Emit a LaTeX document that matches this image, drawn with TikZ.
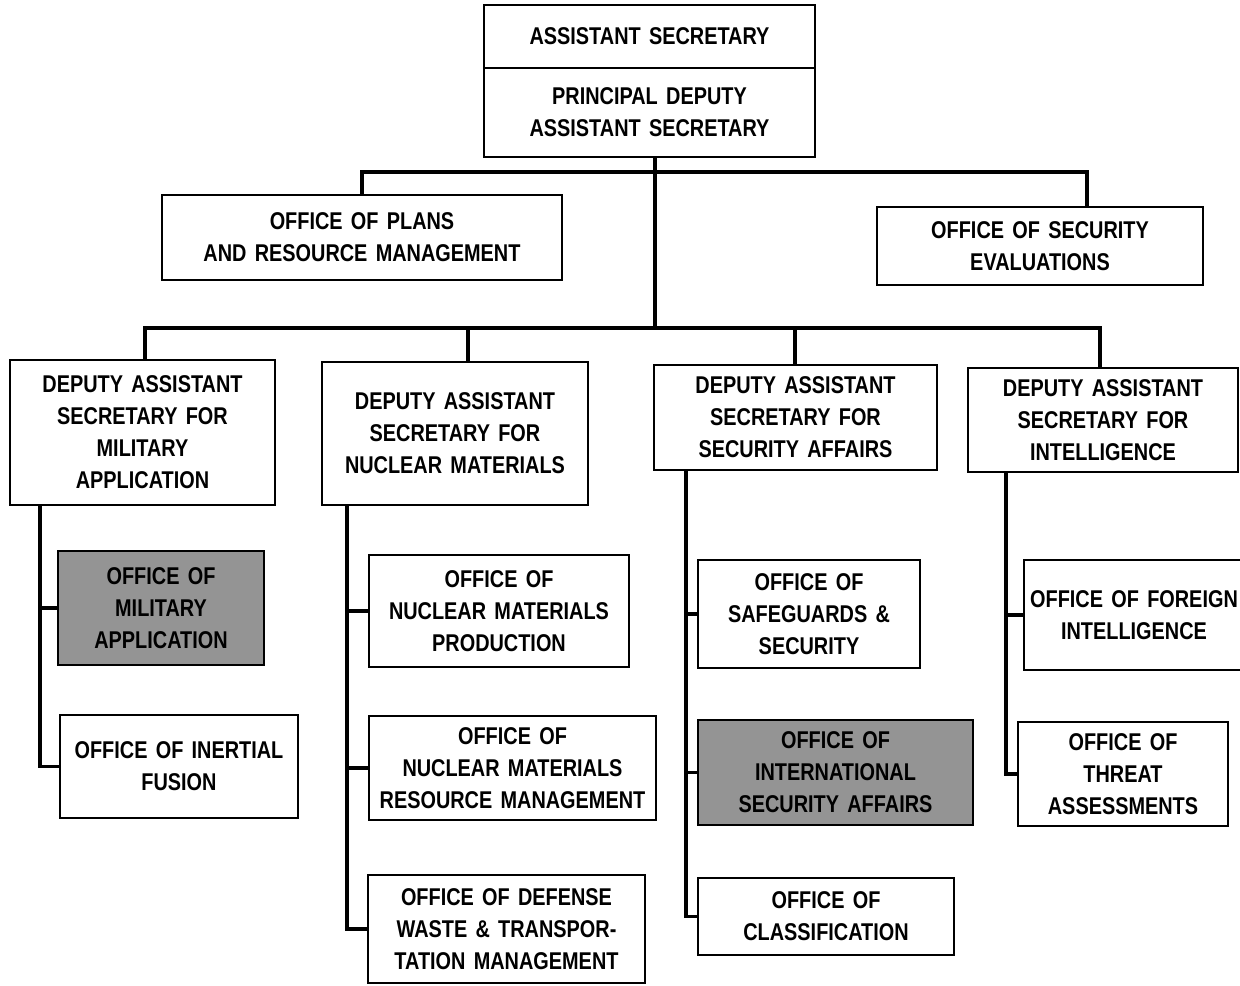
\documentclass[tikz,border=0pt]{standalone}
\usepackage{fontspec}
\setmainfont{Liberation Sans}[FakeStretch=0.82, WordSpace=1.5]
\usetikzlibrary{calc}

\newcommand\orgfont{\bfseries\fontsize{13.8}{18.2}\selectfont}
\tikzset{
  box/.style={draw, line width=1.5pt, align=center, inner sep=0pt, font=\orgfont},
  shaded/.style={box, fill=black!42},
  link/.style={line width=2.2pt}
}

\begin{document}
\begin{tikzpicture}[x=0.02cm,y=-0.02cm]
  \useasboundingbox (0,0) rectangle (1240,985);

  \node[box, minimum width=6.62cm, minimum height=1.26cm] (asst) at (649.5,36.5) {ASSISTANT SECRETARY};
  \node[box, minimum width=6.62cm, minimum height=1.78cm] (pdas) at (649.5,112.5) {PRINCIPAL DEPUTY\\ASSISTANT SECRETARY};

  \node[box, minimum width=8cm, minimum height=1.7cm] (plans) at (362,237.5) {OFFICE OF PLANS\\AND RESOURCE MANAGEMENT};
  \node[box, minimum width=6.52cm, minimum height=1.56cm] (seceval) at (1040,246) {OFFICE OF SECURITY\\EVALUATIONS};

  \node[box, minimum width=5.3cm, minimum height=2.9cm] (das1) at (142.5,432.5) {DEPUTY ASSISTANT\\SECRETARY FOR\\MILITARY\\APPLICATION};
  \node[box, minimum width=5.32cm, minimum height=2.86cm] (das2) at (455,433.5) {DEPUTY ASSISTANT\\SECRETARY FOR\\NUCLEAR MATERIALS};
  \node[box, minimum width=5.66cm, minimum height=2.1cm] (das3) at (795.5,417.5) {DEPUTY ASSISTANT\\SECRETARY FOR\\SECURITY AFFAIRS};
  \node[box, minimum width=5.4cm, minimum height=2.08cm] (das4) at (1103,420) {DEPUTY ASSISTANT\\SECRETARY FOR\\INTELLIGENCE};

  \node[shaded, minimum width=4.12cm, minimum height=2.28cm] (oma) at (161,608) {OFFICE OF\\MILITARY\\APPLICATION};
  \node[box, minimum width=4.76cm, minimum height=2.06cm] (oif) at (179,766.5) {OFFICE OF INERTIAL\\FUSION};

  \node[box, minimum width=5.2cm, minimum height=2.24cm] (onmp) at (499,611) {OFFICE OF\\NUCLEAR MATERIALS\\PRODUCTION};
  \node[box, minimum width=5.74cm, minimum height=2.08cm] (onmrm) at (512.5,768) {OFFICE OF\\NUCLEAR MATERIALS\\RESOURCE MANAGEMENT};
  \node[box, minimum width=5.54cm, minimum height=2.16cm] (odwtm) at (506.5,929) {OFFICE OF DEFENSE\\WASTE \& TRANSPOR-\\TATION MANAGEMENT};

  \node[box, minimum width=4.44cm, minimum height=2.16cm] (oss) at (809,614) {OFFICE OF\\SAFEGUARDS \&\\SECURITY};
  \node[shaded, minimum width=5.5cm, minimum height=2.1cm] (oisa) at (835.5,772.5) {OFFICE OF\\INTERNATIONAL\\SECURITY AFFAIRS};
  \node[box, minimum width=5.12cm, minimum height=1.54cm] (oc) at (826,916.5) {OFFICE OF\\CLASSIFICATION};

  \node[box, minimum width=4.4cm, minimum height=2.2cm] (ofi) at (1134,615) {OFFICE OF FOREIGN\\INTELLIGENCE};
  \node[box, minimum width=4.2cm, minimum height=2.08cm] (ota) at (1123,774) {OFFICE OF\\THREAT\\ASSESSMENTS};

  % buses and drops
  \coordinate (t) at (655,0);
  \coordinate (b1l) at (362,172);
  \coordinate (b1r) at (1087,172);
  \coordinate (b2l) at (145,328);
  \coordinate (b2r) at (1100,328);
  \coordinate (d2) at (468,328);
  \coordinate (d3) at (795,328);
  \draw[link] (pdas.south -| t) -- (t |- b2l);
  \draw[link] (plans.north) -- (b1l) -- (b1r) -- (b1r |- seceval.north);
  \draw[link] (das1.north -| b2l) -- (b2l) -- (b2r) -- (das4.north -| b2r);
  \draw[link] (d2) -- (d2 |- das2.north);
  \draw[link] (d3) -- (d3 |- das3.north);

  % columns
  \coordinate (k1) at (40,0);
  \coordinate (k2) at (347,0);
  \coordinate (k3) at (686,0);
  \coordinate (k4) at (1006,0);
  \draw[link] (das1.south -| k1) |- (oif.west);
  \draw[link] (k1 |- oma.west) -- (oma.west);
  \draw[link] (das2.south -| k2) |- (odwtm.west);
  \draw[link] (k2 |- onmp.west) -- (onmp.west);
  \draw[link] (k2 |- onmrm.west) -- (onmrm.west);
  \draw[link] (das3.south -| k3) |- (oc.west);
  \draw[link] (k3 |- oss.west) -- (oss.west);
  \draw[link] (k3 |- oisa.west) -- (oisa.west);
  \draw[link] (das4.south -| k4) |- (ota.west);
  \draw[link] (k4 |- ofi.west) -- (ofi.west);
\end{tikzpicture}
\end{document}
